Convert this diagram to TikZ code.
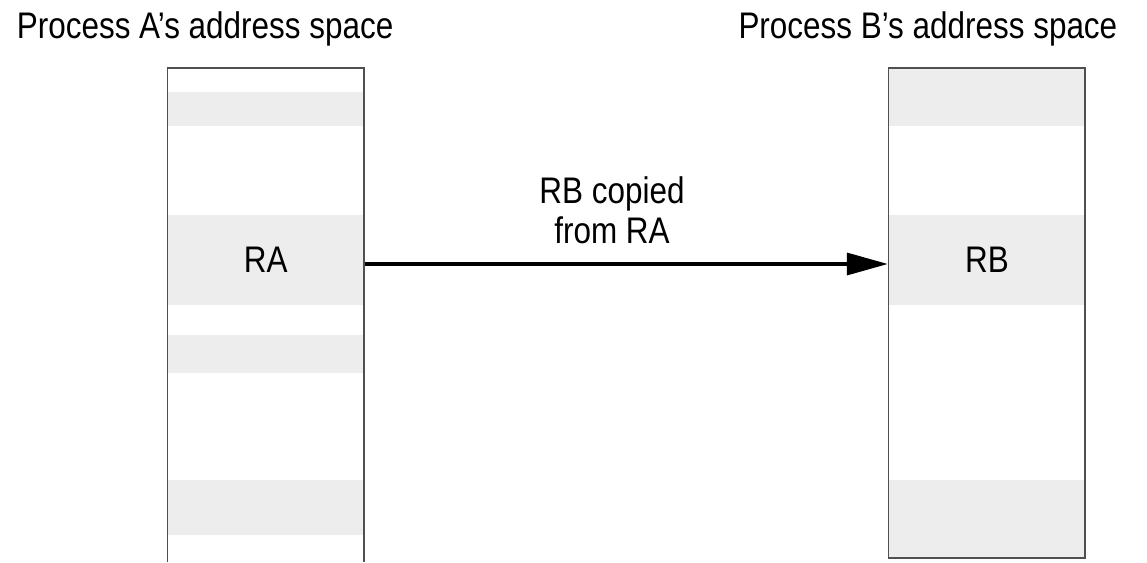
\documentclass[tikz,border=0pt]{standalone}
\usepackage{fontspec}
\setmainfont{Liberation Sans}[FakeStretch=0.85]
\usepackage{tikz}
\usetikzlibrary{arrows.meta}
\definecolor{bandgray}{HTML}{EDEDED}
\definecolor{edgegray}{HTML}{505050}
\newcommand\region[3]{\fill[bandgray] (#1-99,#2) rectangle (#1+99,#3);}

\begin{document}
\begin{tikzpicture}[x=1pt,y=-1pt,
  every node/.style={font=\fontsize{37}{40}\selectfont, inner sep=0pt},
  band/.style={fill=bandgray, minimum width=198pt, minimum height=90pt},
  column/.style={draw=edgegray, line width=1.5pt},
  copyarrow/.style={line width=3.5pt, -{Triangle[length=41pt,width=22pt]}}]
\useasboundingbox (0,0) rectangle (1147,562);
% process A
\region{265.75}{92}{126}
\node[band] (RA) at (265.75,260) {RA};
\region{265.75}{335}{373}
\region{265.75}{480}{535}
\draw[column] (167.5,562) -- (167.5,68) -- (364,68) -- (364,562);
% process B
\region{987}{68}{126}
\node[band] (RB) at (987,260) {RB};
\region{987}{480}{558}
\draw[column] (888.7,68) rectangle (1085,558);
% titles
\node[anchor=base west] (titleA) at (16.7,38.3) {Process A's address space};
\node[anchor=base west] (titleB) at (738.3,38.3) {Process B's address space};
% copy
\draw[copyarrow] ([yshift=-4pt]RA.east) -- ([yshift=-4pt]RB.west);
\node[align=center, anchor=north] (copylabel) at (612,176) {RB copied\\from RA};
\end{tikzpicture}
\end{document}
